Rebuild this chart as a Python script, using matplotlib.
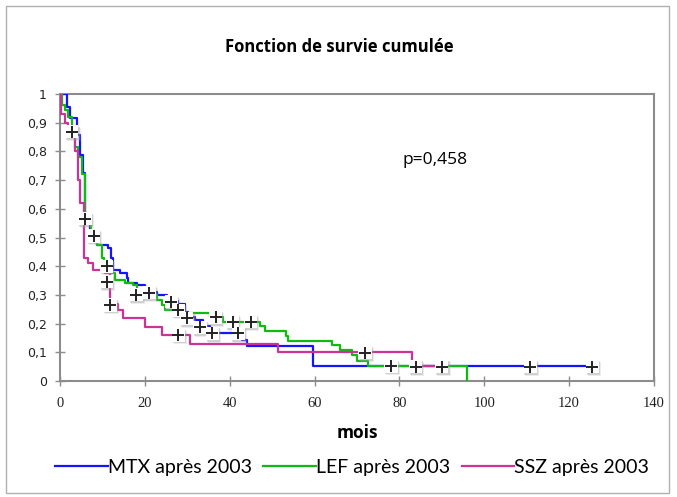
import numpy as np
import matplotlib
matplotlib.use("Agg")
import matplotlib.pyplot as plt
from matplotlib.patches import Rectangle
from matplotlib.transforms import offset_copy

# step curves: value holds from each time onward (months)
mtx_t = [0, 1.6, 2.4, 3.9, 4.7, 5.4, 5.9, 7.1, 7.5, 8.7, 11.3, 12.0, 12.5, 14.1, 15.8, 16.0, 18.1,
         20.0, 22.9, 25.2, 27.8, 29.5, 30.2, 31.8, 33.7, 35.4, 42.9, 44.1, 59.6, 126]
mtx_s = [1.0, 0.955, 0.916, 0.857, 0.787, 0.725, 0.57, 0.51, 0.49, 0.474, 0.463, 0.43, 0.387, 0.376,
         0.359, 0.34, 0.334, 0.31, 0.30, 0.28, 0.27, 0.24, 0.223, 0.213, 0.19, 0.167, 0.143, 0.122,
         0.052, 0.052]

lef_t = [0, 0.5, 1.2, 1.9, 2.8, 3.6, 4.3, 5.2, 5.9, 6.4, 7.3, 8.0, 8.7, 9.9, 10.4, 11.3, 13.0, 15.3,
         17.2, 18.1, 22.9, 24.0, 24.7, 28.3, 35.4, 38.4, 47.1, 48.3, 53.3, 53.7, 64.1, 66.0, 68.8,
         70.0, 72.6, 95.9, 95.9]
lef_s = [1.0, 0.96, 0.944, 0.92, 0.88, 0.815, 0.78, 0.72, 0.57, 0.55, 0.51, 0.484, 0.474, 0.43, 0.40,
         0.376, 0.352, 0.34, 0.334, 0.30, 0.282, 0.265, 0.247, 0.238, 0.224, 0.207, 0.19, 0.174,
         0.157, 0.14, 0.125, 0.108, 0.09, 0.07, 0.052, 0.0, 0.0]

ssz_t = [0, 0.3, 1.2, 1.9, 2.4, 3.5, 4.2, 4.7, 5.6, 6.6, 7.8, 10.6, 11.8, 13.7, 14.9, 20.0, 24.0,
         30.6, 51.4, 82.9, 89]
ssz_s = [1.0, 0.93, 0.90, 0.885, 0.857, 0.80, 0.70, 0.62, 0.43, 0.41, 0.387, 0.376, 0.27, 0.247,
         0.219, 0.188, 0.16, 0.129, 0.10, 0.052, 0.052]

# censored marks
cens_t = [2.8, 5.9, 7.9, 11.0, 11.0, 11.8, 17.9, 21.0, 26.2, 27.9, 27.9, 29.9, 33.0, 35.9, 36.7,
          40.7, 42.0, 44.9, 71.9, 78.0, 83.8, 90.0, 110.8, 125.5]
cens_s = [0.868, 0.565, 0.505, 0.40, 0.346, 0.265, 0.30, 0.308, 0.276, 0.247, 0.16, 0.218, 0.187,
          0.166, 0.222, 0.207, 0.166, 0.207, 0.099, 0.052, 0.05, 0.05, 0.05, 0.05]

series = [("MTX après 2003", mtx_t, mtx_s, "#1414ff"),
          ("LEF après 2003", lef_t, lef_s, "#10bb10"),
          ("SSZ après 2003", ssz_t, ssz_s, "#cc3399")]

fig = plt.figure(figsize=(6.77, 4.97), dpi=100)
ax = fig.add_axes([60 / 677, 116 / 497, 594 / 677, 287 / 497])

fig.patches.append(Rectangle((6 / 677, 4 / 497), 663 / 677, 487 / 497, transform=fig.transFigure,
                             fill=False, edgecolor="#b0b0b0", lw=1.0))

for name, t, s, col in series:
    ax.plot(t, s, drawstyle="steps-post", color=col, lw=1.6, label=name, zorder=3)

# soft shadow behind the censor marks
for dx, dy, a in [(1.0, -1.5, 0.35), (2.0, -2.5, 0.2)]:
    shadow = offset_copy(ax.transData, fig=fig, x=dx, y=dy, units="dots")
    ax.scatter(cens_t, cens_s, marker="s", s=95, color="#a0a0a0", edgecolors="none",
               transform=shadow, zorder=4, alpha=a)
ax.scatter(cens_t, cens_s, marker="s", s=90, color="white", edgecolors="none", zorder=5)
ax.scatter(cens_t, cens_s, marker="+", s=75, color="#222222", linewidths=1.4, zorder=6)

ax.set_xlim(0, 140)
ax.set_ylim(0, 1)
ax.set_xticks(np.arange(0, 141, 20))
ax.set_yticks(np.arange(0, 1.01, 0.1))
ax.set_yticklabels(["0"] + [f"0,{i}" for i in range(1, 10)] + ["1"])
for lab in ax.get_xticklabels():
    lab.set_family("Liberation Serif")
    lab.set_fontsize(10.5)
for lab in ax.get_yticklabels():
    lab.set_family("DejaVu Sans")
    lab.set_fontsize(9)
ax.tick_params(axis="both", direction="inout", length=7, width=1.0, color="#8c8c8c",
               labelcolor="#222222")
ax.tick_params(axis="x", pad=8)
ax.tick_params(axis="y", pad=6)
for sp in ax.spines.values():
    sp.set_color("#8c8c8c")
    sp.set_linewidth(1.5)

ax.set_xlabel("mois", family="Open Sans", fontweight="bold", fontsize=12.5, labelpad=10)
fig.text(435 / 677, 1 - 160 / 497, "p=0,458", fontsize=12.5, family="Open Sans",
         ha="center", va="center")
fig.text(339 / 677, 1 - 47 / 497, "Fonction de survie cumulée", family="Open Sans",
         fontweight="bold", fontsize=12, ha="center", va="center")

leg = fig.legend(loc="center", bbox_to_anchor=(352 / 677, 1 - 467 / 497), ncol=3, frameon=False,
                 prop={"family": "Lato", "size": 14}, handlelength=2.7, handletextpad=0.0,
                 columnspacing=0.6)

fig.savefig("out.png", dpi=100)
